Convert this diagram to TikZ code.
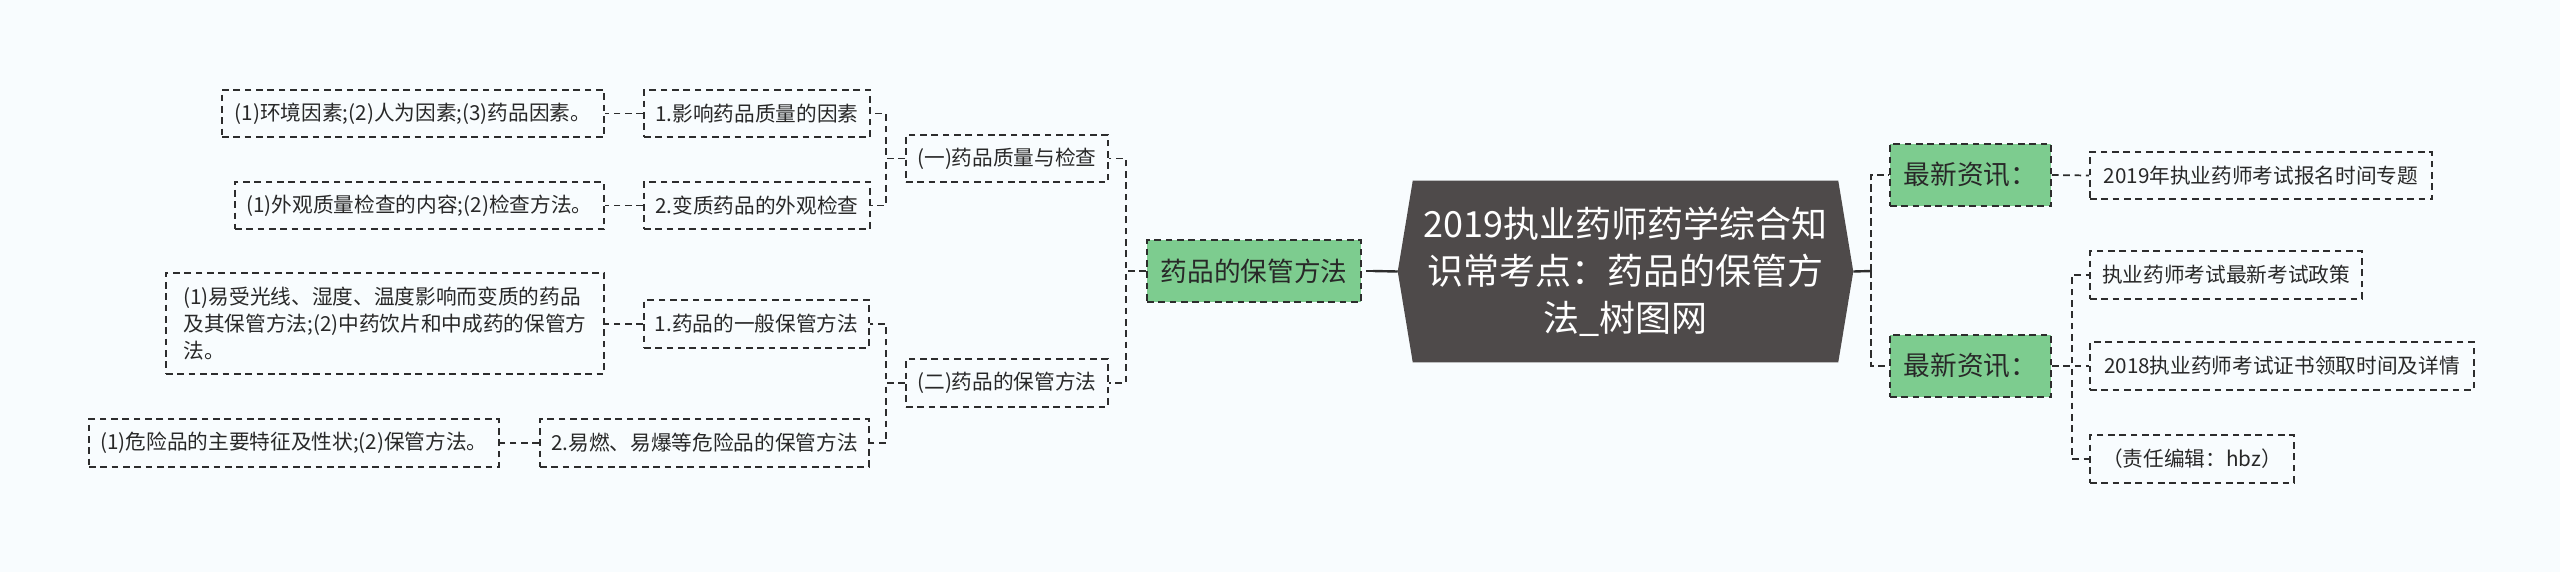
\documentclass[tikz,border=0pt]{standalone}
\usepackage{fontspec}
\setmainfont{Noto Sans CJK SC}
\usetikzlibrary{calc}
\definecolor{bgc}{RGB}{248,252,254}
\definecolor{greenc}{RGB}{125,204,143}
\definecolor{cfill}{RGB}{78,74,74}
\definecolor{linec}{RGB}{45,45,45}
\definecolor{textc}{RGB}{40,40,40}
\tikzset{
  leaf/.style={draw=linec, line width=1.3pt, dash pattern=on 5pt off 3.5pt, inner sep=0pt,
    minimum height=35.5pt, text=textc, font=\fontsize{15.5pt}{20pt}\selectfont},
  gbox/.style={draw=linec, fill=greenc, line width=1.3pt, dash pattern=on 5pt off 3.5pt, inner sep=0pt,
    minimum height=46.5pt, text=textc, font=\fontsize{20pt}{24pt}\selectfont},
  conn/.style={draw=linec, line width=1.3pt, dash pattern=on 5pt off 3.5pt},
  connthick/.style={draw=linec, line width=2.1pt, dash pattern=on 5.5pt off 3pt},
  stub/.style={draw=linec, line width=1.8pt},
}
\begin{document}
\begin{tikzpicture}[x=0.75pt, y=-0.75pt]
\fill[bgc] (0,0) rectangle (2560,572);
\useasboundingbox (0,0) rectangle (2560,572);

% central node
\node[minimum width=341.25pt, minimum height=135.75pt, inner sep=0pt] (c) at (1625.5,271.5) {};
\fill[cfill] ($(c.north west)+(15,0)$) -- ($(c.north east)+(-15,0)$) -- (c.east)
  -- ($(c.south east)+(-15,0)$) -- ($(c.south west)+(15,0)$) -- (c.west) -- cycle;
\node[text=white, align=center, font=\fontsize{27pt}{35.25pt}\selectfont] (ct) at (c) {2019执业药师药学综合知\\识常考点：药品的保管方\\法\_树图网};

% left side
\node[gbox, minimum width=160.5pt] (gl) at (1254,271) {药品的保管方法};
\node[leaf, minimum width=151.5pt] (q1) at (1007,158.5) {(一)药品质量与检查};
\node[leaf, minimum width=151.5pt] (q2) at (1007,383) {(二)药品的保管方法};
\node[leaf, minimum width=169.5pt] (inf) at (757,113.5) {1.影响药品质量的因素};
\node[leaf, minimum width=169.5pt] (bz) at (757,205.5) {2.变质药品的外观检查};
\node[leaf, minimum width=168.75pt] (yb) at (756.5,324) {1.药品的一般保管方法};
\node[leaf, minimum width=246.75pt] (yr) at (704.5,443) {2.易燃、易爆等危险品的保管方法};
\node[leaf, minimum width=286.5pt] (env) at (413,113.5) {(1)环境因素;(2)人为因素;(3)药品因素。};
\node[leaf, minimum width=276.75pt] (wg) at (419.5,205.5) {(1)外观质量检查的内容;(2)检查方法。};
\node[leaf, minimum width=328.5pt, minimum height=75.75pt, align=left] (ys) at (385,323.5) {(1)易受光线、湿度、温度影响而变质的药品\\及其保管方法;(2)中药饮片和中成药的保管方\\法。};
\node[leaf, minimum width=307.5pt] (wx) at (294,443) {(1)危险品的主要特征及性状;(2)保管方法。};

% right side
\node[gbox, minimum width=120.75pt] (gr1) at (1970.5,175) {最新资讯：};
\node[gbox, minimum width=120.75pt] (gr2) at (1970.5,366) {最新资讯：};
\node[leaf, minimum width=256.5pt] (r1) at (2261,175.5) {2019年执业药师考试报名时间专题};
\node[leaf, minimum width=204pt] (r2) at (2226,275) {执业药师考试最新考试政策};
\node[leaf, minimum width=288pt] (r3) at (2282,366) {2018执业药师考试证书领取时间及详情};
\node[leaf, minimum width=153pt] (r4) at (2192,459) {（责任编辑：hbz）};

% connectors left
\coordinate (cL) at (1373,271);
\draw[stub] (c.west) -- (cL);
\draw[conn] (cL) -- (gl.east);
\draw[conn] (gl.west) -- ++(-20,0) |- (q1.east);
\draw[conn] (gl.west) -- ++(-20,0) |- (q2.east);
\draw[conn] (q1.west) -- ++(-19,0) |- (inf.east);
\draw[conn] (q1.west) -- ++(-19,0) |- (bz.east);
\draw[conn] (q2.west) -- ++(-19,0) |- (yb.east);
\draw[conn] (q2.west) -- ++(-19,0) |- (yr.east);
\draw[conn] (inf.west) -- (env.east);
\draw[conn] (bz.west) -- (wg.east);
\draw[conn] (yb.west) -- (yb.west -| ys.east);
\draw[conn] (yr.west) -- (wx.east);

% connectors right
\coordinate (cR) at (1871,271);
\draw[stub] (c.east) -- (cR);
\draw[connthick] (cR) |- (gr1.west);
\draw[connthick] (cR) |- (gr2.west);
\draw[conn] (gr1.east) -- (r1.west);
\draw[conn] (gr2.east) -- ++(20,0) |- (r2.west);
\draw[conn] (gr2.east) -- ++(20,0) |- (r3.west);
\draw[conn] (gr2.east) -- ++(20,0) |- (r4.west);
\end{tikzpicture}
\end{document}
